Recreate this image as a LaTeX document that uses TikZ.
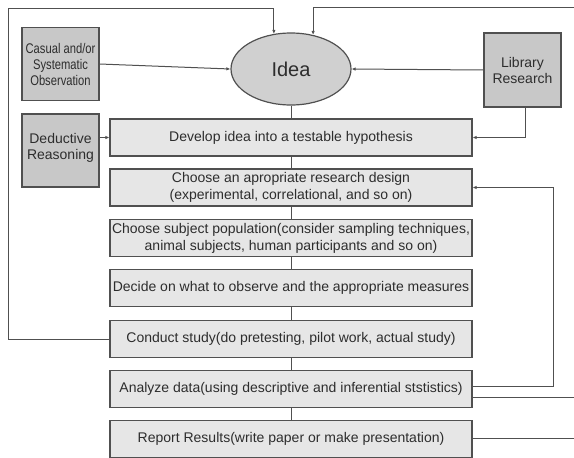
\documentclass[tikz,border=0pt]{standalone}
\usepackage{fontspec}
\setmainfont{Liberation Sans}
\newfontfamily\narrowfont[FakeStretch=0.8]{Liberation Sans}
\usetikzlibrary{arrows.meta,shapes.geometric}
\definecolor{sidefill}{RGB}{200,200,200}
\definecolor{mainfill}{RGB}{230,230,230}
\definecolor{ellfill}{RGB}{208,208,208}
\definecolor{edge}{RGB}{80,80,80}
\definecolor{txt}{RGB}{45,45,45}
\begin{document}
\begin{tikzpicture}[x=1pt,y=-1pt,
  sidebox/.style={draw=edge, line width=1.2pt, fill=sidefill, minimum width=77pt, minimum height=73pt, align=center, inner sep=1pt, font=\fontsize{14}{16}\selectfont, text=txt},
  mainbox/.style={draw=edge, line width=1.2pt, fill=mainfill, minimum width=362pt, minimum height=37pt, align=center, inner xsep=1pt, inner ysep=1pt, font=\fontsize{14}{17}\selectfont, text=txt},
  ideanode/.style={ellipse, draw=edge, line width=1.2pt, fill=ellfill, minimum width=120pt, minimum height=72pt, inner sep=0pt, font=\fontsize{20}{22}\selectfont, text=txt},
  conn/.style={draw=edge, line width=1pt},
  arr/.style={conn, -{Latex[length=4pt,width=3.5pt]}},
]
\useasboundingbox (0,0) rectangle (574,458);
\node[ideanode] (idea) at (291,69) {Idea};
\node[sidebox, font=\narrowfont\fontsize{14}{16}\selectfont] (casual) at (60.5,64) {Casual and/or\\Systematic\\Observation};
\node[sidebox, minimum height=74pt] (lib) at (522.5,70) {Library\\Research};
\node[sidebox] (deduct) at (60.5,150.5) {Deductive\\Reasoning\\[-8pt]\mbox{}};
\node[mainbox] (develop) at (291,137.5) {Develop idea into a testable hypothesis};
\node[mainbox] (design) at (291,187.5) {Choose an apropriate research design\\(experimental, correlational, and so on)};
\node[mainbox] (subject) at (291,238) {Choose subject population(consider sampling techniques,\\animal subjects, human participants and so on)};
\node[mainbox] (decide) at (291,288) {Decide on what to observe and the appropriate measures};
\node[mainbox] (conduct) at (291,339) {Conduct study(do pretesting, pilot work, actual study)};
\node[mainbox] (analyze) at (291,389) {Analyze data(using descriptive and inferential ststistics)};
\node[mainbox] (report) at (291,439) {Report Results(write paper or make presentation)};
% vertical chain
\draw[conn] (idea.south) -- (develop.north);
\draw[conn] (develop.south) -- (design.north);
\draw[conn] (design.south) -- (subject.north);
\draw[conn] (subject.south) -- (decide.north);
\draw[conn] (decide.south) -- (conduct.north);
\draw[conn] (conduct.south) -- (analyze.north);
\draw[conn] (analyze.south) -- (report.north);
% side inputs
\draw[arr] (casual.east) -- (idea.west);
\draw[arr] (lib.west) -- (idea.east);
\draw[arr] ([xshift=3pt]lib.south) |- (develop.east);
\draw[arr] (deduct.east |- develop.west) -- (develop.west);
% outer left loop
\coordinate (L1) at (8,339);
\coordinate (L2) at (8,8);
\coordinate (T1) at (idea.116 |- L2);
\draw[arr] (conduct.west) -- (L1) -- (L2) -- (T1) -- (idea.116);
% top right loop
\coordinate (R1) at (574,7);
\draw[arr] (R1) -| (idea.57);
% analyze feedback
\coordinate (A1) at (553,386);
\draw[arr] (analyze.east |- A1) -- (A1) |- (design.east);
\coordinate (E2) at (574,397);
\draw[conn] (analyze.east |- E2) -- (E2);
\coordinate (E3) at (574,438);
\draw[conn] (report.east |- E3) -- (E3);
\end{tikzpicture}
\end{document}
